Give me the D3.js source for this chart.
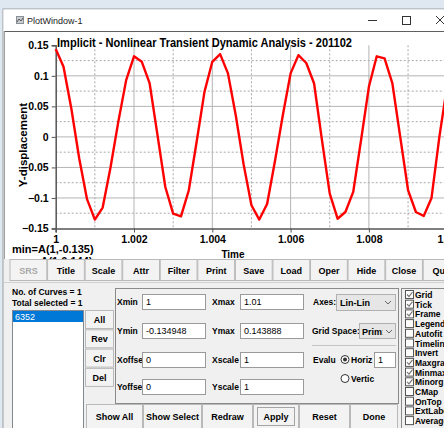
<!DOCTYPE html>
<html><head><meta charset="utf-8">
<script src="https://cdn.jsdelivr.net/npm/d3@7/dist/d3.min.js"></script>
<style>
html,body{margin:0;padding:0;background:#dfe8f1;overflow:hidden;}
svg{display:block;}
text{font-family:"Liberation Sans",Arial,sans-serif;}
</style></head>
<body><svg id="c" width="444" height="428"></svg>
<script>
// ---- data ----
const timeVals = [1.0000,1.0002,1.0004,1.0006,1.0008,1.0010,1.0012,1.0014,1.0016,1.0018,
  1.0020,1.0022,1.0024,1.0026,1.0028,1.0030,1.0032,1.0034,1.0036,1.0038,
  1.0040,1.0042,1.0044,1.0046,1.0048,1.0050,1.0052,1.0054,1.0056,1.0058,
  1.0060,1.0062,1.0064,1.0066,1.0068,1.0070,1.0072,1.0074,1.0076,1.0078,
  1.0080,1.0082,1.0084,1.0086,1.0088,1.0090,1.0092,1.0094,1.0096,1.0098,1.0100];
const dispVals = [0.1439,0.1148,0.046,-0.035,-0.102,-0.1354,-0.1157,-0.050,0.025,0.093,
  0.132,0.123,0.0875,0.003,-0.082,-0.1256,-0.130,-0.0874,-0.008,0.0738,
  0.123,0.1356,0.104,0.035,-0.045,-0.112,-0.1354,-0.110,-0.040,0.035,
  0.104,0.1339,0.121,0.0875,-0.005,-0.093,-0.134,-0.123,-0.090,-0.005,
  0.082,0.132,0.1285,0.0875,0.000,-0.087,-0.123,-0.1295,-0.100,0.000,0.085];
const yTickVals = [-0.15,-0.1,-0.05,0,0.05,0.1,0.15];
const yMinorVals = [-0.125,-0.075,-0.025,0.025,0.075,0.125];
const xTickVals = [1,1.002,1.004,1.006,1.008,1.01];
const xTickLabels = ["1","1.002","1.004","1.006","1.008","1.01"];
const xMinorVals = [1.001,1.003,1.005,1.007,1.009];
const chartTitle = "Implicit - Nonlinear Transient Dynamic Analysis - 201102";
const toolbarButtons = ["SRS","Title","Scale","Attr","Filter","Print","Save","Load","Oper","Hide","Close","Quit"];
const sideButtons = ["All","Rev","Clr","Del"];
const bottomButtons = ["Show All","Show Select","Redraw","Apply","Reset","Done"];
const checkItems = ["Grid","Tick","Frame","Legend","Autofit","Timeline","Invert","Maxgra","Minmax","Minorg","CMap","OnTop","ExtLabe","Average"];
const checkStates = [1,1,1,0,0,0,0,1,1,1,0,0,0,0];
const leftFields = [["Xmin","1"],["Ymin","-0.134948"],["Xoffse","0"],["Yoffse","0"]];
const rightFields = [["Xmax","1.01"],["Ymax","0.143888"],["Xscale","1"],["Yscale","1"]];

const svg = d3.select("#c");
const W = 444, H = 428;

// window frame
svg.append("rect").attr("x",3).attr("y",9).attr("width",W).attr("height",H).attr("fill","#f0f0f0").attr("stroke","#9aa0a6");
svg.append("rect").attr("x",3.5).attr("y",9.5).attr("width",W).attr("height",22).attr("fill","#ffffff");
// title bar
const ic = svg.append("g").attr("transform","translate(16,16)");
ic.append("rect").attr("width",8).attr("height",8).attr("fill","#8a8f96");
ic.append("rect").attr("x",1).attr("y",1).attr("width",6).attr("height",6).attr("fill","#c9ccd0");
ic.append("path").attr("d","M1,6 L3,3 L5,5 L7,2").attr("stroke","#555").attr("fill","none");
svg.append("text").attr("x",27).attr("y",24).attr("font-size",9).attr("fill","#222").text("PlotWindow-1");
svg.append("line").attr("x1",368).attr("x2",377).attr("y1",20.5).attr("y2",20.5).attr("stroke","#333");
svg.append("rect").attr("x",402.5).attr("y",16.5).attr("width",8).attr("height",8).attr("fill","none").attr("stroke","#333");
svg.append("path").attr("d","M436,16 L444,24 M444,16 L436,24").attr("stroke","#333");

// plot canvas
svg.append("rect").attr("x",4).attr("y",31.5).attr("width",W).attr("height",227.5).attr("fill","#ffffff");
svg.append("line").attr("x1",4).attr("x2",W).attr("y1",31.5).attr("y2",31.5).attr("stroke","#606060");
svg.append("line").attr("x1",4.5).attr("x2",4.5).attr("y1",31.5).attr("y2",259).attr("stroke","#a0a0a0");

const x = d3.scaleLinear().domain([1,1.01]).range([55.7,447.2]);
const y = d3.scaleLinear().domain([-0.15,0.15]).range([228.5,45.3]);

const plot = svg.append("g");
// minor grid (dotted)
plot.selectAll(".mx").data(xMinorVals).join("line")
  .attr("x1",d=>x(d)).attr("x2",d=>x(d)).attr("y1",y(0.15)).attr("y2",y(-0.15))
  .attr("stroke","#a8a8a8").attr("stroke-dasharray","2,2");
plot.selectAll(".my").data(yMinorVals).join("line")
  .attr("x1",x(1)).attr("x2",W).attr("y1",d=>y(d)).attr("y2",d=>y(d))
  .attr("stroke","#a8a8a8").attr("stroke-dasharray","2,2");
// major grid
plot.selectAll(".gx").data(xTickVals.slice(1)).join("line")
  .attr("x1",d=>x(d)).attr("x2",d=>x(d)).attr("y1",y(0.15)).attr("y2",y(-0.15))
  .attr("stroke","#b4b4b4");
plot.selectAll(".gy").data(yTickVals.slice(1,-1)).join("line")
  .attr("x1",x(1)).attr("x2",W).attr("y1",d=>y(d)).attr("y2",d=>y(d))
  .attr("stroke","#b4b4b4");

// axes
const yAxis = d3.axisLeft(y).tickValues(yTickVals).tickSize(4).tickPadding(3).tickFormat(d=>d3.format("")(+d.toFixed(2)));
const gy = svg.append("g").attr("transform",`translate(${x(1)},0)`).call(yAxis);
gy.select(".domain").attr("stroke","#555").attr("stroke-width",1.5);
gy.selectAll(".tick line").attr("stroke","#555");
gy.selectAll(".tick text").attr("font-size",10.5).attr("font-weight","bold").attr("fill","#000").attr("font-family","Liberation Sans, Arial");
const xAxis = d3.axisBottom(x).tickValues(xTickVals).tickSize(4).tickPadding(3).tickFormat((d,i)=>xTickLabels[i]);
const gx = svg.append("g").attr("transform",`translate(0,${y(-0.15)})`).call(xAxis);
gx.select(".domain").attr("stroke","#555").attr("stroke-width",1.5);
gx.selectAll(".tick line").attr("stroke","#555");
gx.selectAll(".tick text").attr("font-size",10.5).attr("font-weight","bold").attr("fill","#000").attr("font-family","Liberation Sans, Arial");

// curve
const line = d3.line().x((d,i)=>x(timeVals[i])).y(d=>y(d));
svg.append("path").datum(dispVals).attr("d",line).attr("fill","none")
  .attr("stroke","#ff0000").attr("stroke-width",2.4).attr("stroke-linejoin","round");

// titles
svg.append("text").attr("x",57).attr("y",47).attr("font-size",12).attr("font-weight","bold")
  .attr("textLength",295).attr("lengthAdjust","spacingAndGlyphs").text(chartTitle);
svg.append("text").attr("transform","translate(27,145) rotate(-90)").attr("text-anchor","middle")
  .attr("font-size",11.5).attr("font-weight","bold").text("Y-displacement");
svg.append("text").attr("x",233).attr("y",258).attr("text-anchor","middle").attr("font-size",10).attr("font-weight","bold").text("Time");
svg.append("text").attr("x",12).attr("y",253).attr("font-size",11).attr("font-weight","bold").text("min=A(1,-0.135)");
svg.append("text").attr("x",12).attr("y",265).attr("font-size",11).attr("font-weight","bold").text("max=A(1,0.144)");

// toolbar
svg.append("rect").attr("x",4).attr("y",259).attr("width",W).attr("height",169).attr("fill","#f0f0f0");
const tbx = d3.scaleBand().domain(toolbarButtons).range([10,460]).paddingInner(0.02);
const tb = svg.selectAll(".tb").data(toolbarButtons).join("g").attr("transform",d=>`translate(${tbx(d)},259.5)`);
tb.append("rect").attr("width",tbx.bandwidth()).attr("height",21).attr("fill","#f3f3f3").attr("stroke","#b9b9b9");
tb.append("text").attr("x",tbx.bandwidth()/2).attr("y",14).attr("text-anchor","middle").attr("font-size",9)
  .attr("font-weight","bold").attr("fill",d=>d==="SRS"?"#a8a8a8":"#000").text(d=>d);
svg.append("line").attr("x1",4).attr("x2",W).attr("y1",282.5).attr("y2",282.5).attr("stroke","#d0d0d0");

// left info
svg.append("text").attr("x",12).attr("y",295).attr("font-size",8.5).attr("font-weight","bold").text("No. of Curves = 1");
svg.append("text").attr("x",12).attr("y",306).attr("font-size",8.5).attr("font-weight","bold").text("Total selected = 1");
svg.append("rect").attr("x",12.5).attr("y",310.5).attr("width",71).attr("height",130).attr("fill","#fff").attr("stroke","#828790");
svg.append("rect").attr("x",13).attr("y",311).attr("width",70).attr("height",11).attr("fill","#0078d7");
svg.append("text").attr("x",15).attr("y",320).attr("font-size",9).attr("fill","#fff").text("6352");

const sb = svg.selectAll(".sb").data(sideButtons).join("g").attr("transform",(d,i)=>`translate(85.5,${310.5+i*19.3})`);
sb.append("rect").attr("width",28).attr("height",18).attr("fill","#f3f3f3").attr("stroke","#b9b9b9");
sb.append("text").attr("x",14).attr("y",12.5).attr("text-anchor","middle").attr("font-size",9).attr("font-weight","bold").text(d=>d);

// inner panel
svg.append("rect").attr("x",115.5).attr("y",288.5).attr("width",283).attr("height",115).attr("fill","#f0f0f0").attr("stroke","#8a8a8a");
const fy = [294,323,352,379];
leftFields.forEach((f,i)=>{
  svg.append("text").attr("x",117).attr("y",fy[i]+11).attr("font-size",8.5).attr("font-weight","bold").text(f[0]);
  svg.append("rect").attr("x",142.5).attr("y",fy[i]+0.5).attr("width",63).attr("height",15).attr("fill","#fff").attr("stroke","#9a9a9a");
  svg.append("text").attr("x",146).attr("y",fy[i]+10.5).attr("font-size",9).text(f[1]);
});
rightFields.forEach((f,i)=>{
  svg.append("text").attr("x",212).attr("y",fy[i]+11).attr("font-size",8.5).attr("font-weight","bold").text(f[0]);
  svg.append("rect").attr("x",240.5).attr("y",fy[i]+0.5).attr("width",63).attr("height",15).attr("fill","#fff").attr("stroke","#9a9a9a");
  svg.append("text").attr("x",244).attr("y",fy[i]+10.5).attr("font-size",9).text(f[1]);
});
svg.append("text").attr("x",313).attr("y",305).attr("font-size",8.5).attr("font-weight","bold").text("Axes:");
svg.append("rect").attr("x",336.5).attr("y",294.5).attr("width",59).attr("height",16).attr("fill","#e6e6e6").attr("stroke","#b0b0b0");
svg.append("text").attr("x",340).attr("y",306).attr("font-size",9).attr("font-weight","bold").text("Lin-Lin");
svg.append("path").attr("d","M385,301 L388,304 L391,301").attr("stroke","#666").attr("fill","none");
svg.append("text").attr("x",312).attr("y",334).attr("font-size",8.5).attr("font-weight","bold").text("Grid Space:");
svg.append("rect").attr("x",359.5).attr("y",323.5).attr("width",36).attr("height",15).attr("fill","#e6e6e6").attr("stroke","#b0b0b0");
svg.append("text").attr("x",362).attr("y",334.5).attr("font-size",9).attr("font-weight","bold").text("Prim:");
svg.append("rect").attr("x",383).attr("y",324).attr("width",12).attr("height",14).attr("fill","#e6e6e6");
svg.append("path").attr("d","M386,330 L389,333 L392,330").attr("stroke","#666").attr("fill","none");
svg.append("line").attr("x1",312).attr("x2",396).attr("y1",345.5).attr("y2",345.5).attr("stroke","#c4c4c4");
svg.append("text").attr("x",313).attr("y",363).attr("font-size",8.5).attr("font-weight","bold").text("Evalu");
svg.append("circle").attr("cx",345).attr("cy",359.5).attr("r",4).attr("fill","#fff").attr("stroke","#333");
svg.append("circle").attr("cx",345).attr("cy",359.5).attr("r",2).attr("fill","#333");
svg.append("text").attr("x",351).attr("y",363).attr("font-size",8.5).attr("font-weight","bold").text("Horiz");
svg.append("rect").attr("x",374.5).attr("y",352.5).attr("width",21).attr("height",15).attr("fill","#fff").attr("stroke","#9a9a9a");
svg.append("text").attr("x",378).attr("y",363).attr("font-size",9).text("1");
svg.append("circle").attr("cx",345).attr("cy",378.5).attr("r",4).attr("fill","#fff").attr("stroke","#333");
svg.append("text").attr("x",351).attr("y",382).attr("font-size",8.5).attr("font-weight","bold").text("Vertic");

// bottom buttons
const bbEdges = [86,143,202,253,299,350,398];
const bb = svg.selectAll(".bb").data(bottomButtons).join("g").attr("transform",(d,i)=>`translate(${bbEdges[i]+0.5},404.5)`);
bb.append("rect").attr("width",(d,i)=>bbEdges[i+1]-bbEdges[i]-1).attr("height",26).attr("fill","#f3f3f3").attr("stroke","#b9b9b9");
bb.append("text").attr("x",(d,i)=>(bbEdges[i+1]-bbEdges[i]-1)/2).attr("y",15).attr("text-anchor","middle").attr("font-size",9).attr("font-weight","bold").text(d=>d);
svg.append("rect").attr("x",257.5).attr("y",407.5).attr("width",37).attr("height",18).attr("fill","none").attr("stroke","#555").attr("stroke-dasharray","1,1");

// checkbox panel
svg.append("rect").attr("x",401.5).attr("y",288.5).attr("width",50).attr("height",150).attr("fill","#f0f0f0").attr("stroke","#8a8a8a");
const cb = svg.selectAll(".cb").data(checkItems).join("g").attr("transform",(d,i)=>`translate(405,${290+i*9.7})`);
cb.append("rect").attr("x",0.5).attr("y",0.5).attr("width",8).attr("height",8).attr("fill","#fff").attr("stroke","#555");
cb.filter((d,i)=>checkStates[i]).append("path").attr("d","M2,4.5 L4,6.5 L7.5,2").attr("stroke","#777").attr("stroke-width",1.2).attr("fill","none");
cb.append("text").attr("x",10).attr("y",8).attr("font-size",8.5).attr("font-weight","bold").text(d=>d);
</script></body></html>
